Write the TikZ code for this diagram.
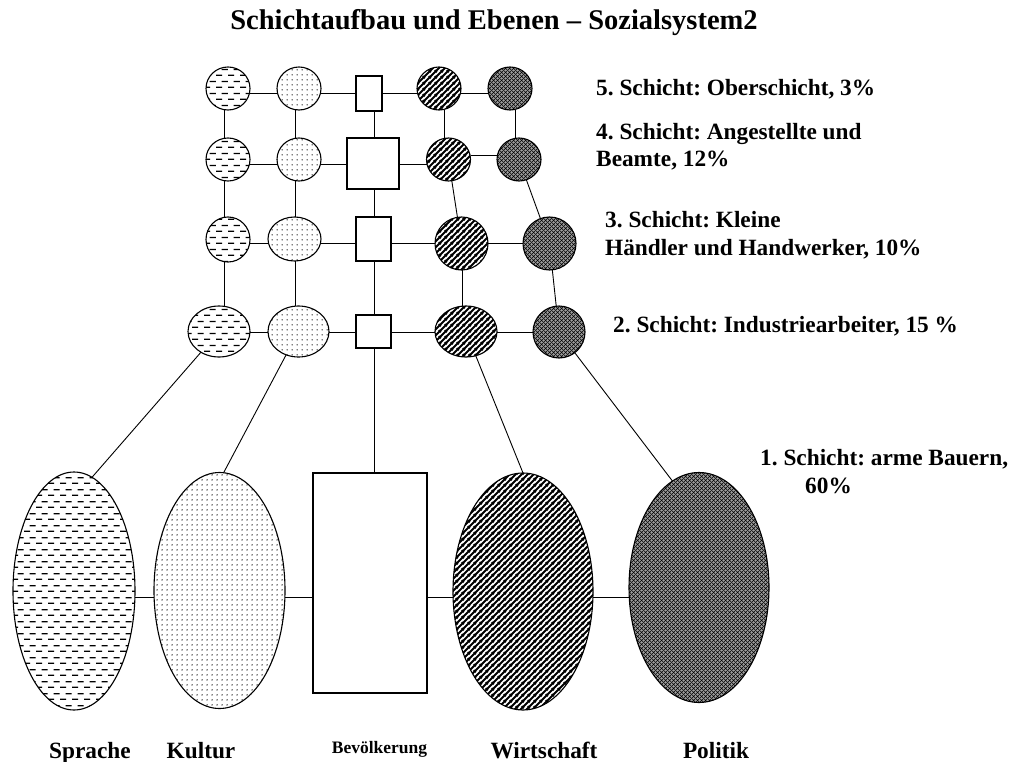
\documentclass[tikz,border=0pt]{standalone}
\usepackage{fontspec}
\setmainfont{Liberation Serif}
\usetikzlibrary{shapes.geometric,patterns.meta}
\frenchspacing

\tikzdeclarepattern{name=hdash, type=uncolored,
  bounding box={(0pt,0pt) and (12pt,12pt)}, tile size={(12pt,12pt)},
  code={\draw[line width=1.3pt] (0pt,3pt) -- (6.5pt,3pt) (6pt,9pt) -- (12.5pt,9pt);}}
\tikzdeclarepattern{name=dotsp, type=uncolored,
  bounding box={(0pt,0pt) and (5pt,5pt)}, tile size={(5pt,5pt)},
  code={\fill (2.5pt,2.5pt) circle (0.85pt);}}
\tikzdeclarepattern{name=diagp, type=uncolored,
  bounding box={(0pt,0pt) and (5.5pt,5.5pt)}, tile size={(5.5pt,5.5pt)},
  code={\draw[line width=2pt] (-1pt,-1pt) -- (6.5pt,6.5pt) (-1pt,4.5pt) -- (1pt,6.5pt) (4.5pt,-1pt) -- (6.5pt,1pt);}}
\tikzdeclarepattern{name=xhatch, type=uncolored,
  bounding box={(0pt,0pt) and (4pt,4pt)}, tile size={(4pt,4pt)},
  code={\draw[line width=0.8pt] (-1pt,-1pt) -- (5pt,5pt) (-1pt,5pt) -- (5pt,-1pt);}}

\tikzset{
  gn/.style={ellipse, draw, line width=1.1pt, inner sep=0pt, outer sep=0pt},
  sq/.style={rectangle, draw, line width=1.1pt, inner sep=0pt, outer sep=0pt, fill=white},
  fdash/.style={pattern=hdash},
  fdots/.style={pattern=dotsp, pattern color=black},
  fdiag/.style={pattern=diagp},
  fxh/.style={preaction={fill=black!38}, pattern=xhatch},
  conn/.style={line width=0.9pt},
  lbl/.style={font=\fontsize{23.3}{26}\selectfont\bfseries, anchor=base west, inner sep=0pt},
  blbl/.style={font=\fontsize{23.3}{26}\selectfont\bfseries, anchor=base, inner sep=0pt}
}

\begin{document}
\begin{tikzpicture}[x=1pt,y=-1pt]
\fill[white] (0,0) rectangle (1011,762);
\useasboundingbox (0,0) rectangle (1011,762);

\node[font=\fontsize{28.5}{32}\selectfont\bfseries, anchor=base, inner sep=0pt] (title) at (494,30) {Schichtaufbau und Ebenen – Sozialsystem2};

% line levels
\coordinate (L5) at (0,93);
\coordinate (L4) at (0,164);
\coordinate (L4b) at (0,155);
\coordinate (L3) at (0,243);
\coordinate (L2) at (0,332);
\coordinate (LB) at (0,597);
\coordinate (V1) at (224,0);
\coordinate (V2) at (295,0);
\coordinate (V3) at (374,0);
\coordinate (V4) at (444,0);
\coordinate (V4b) at (462,0);
\coordinate (V5) at (515,0);

% row 5
\node[gn,fdash,minimum width=44pt,minimum height=43pt] (a5) at (228,88.5) {};
\node[gn,fdots,minimum width=44pt,minimum height=43pt] (b5) at (299,88.5) {};
\node[sq,minimum width=26pt,minimum height=35pt] (c5) at (369,93.5) {};
\node[gn,fdiag,minimum width=44pt,minimum height=43pt] (d5) at (439,88.5) {};
\node[gn,fxh,minimum width=44pt,minimum height=43pt] (e5) at (510,88.5) {};
% row 4
\node[gn,fdash,minimum width=44pt,minimum height=43pt] (a4) at (228,159.5) {};
\node[gn,fdots,minimum width=44pt,minimum height=43pt] (b4) at (299,159.5) {};
\node[sq,minimum width=52pt,minimum height=51pt] (c4) at (373,163.5) {};
\node[gn,fdiag,minimum width=44pt,minimum height=43pt] (d4) at (448.5,159.5) {};
\node[gn,fxh,minimum width=44pt,minimum height=43pt] (e4) at (519,159.5) {};
% row 3
\node[gn,fdash,minimum width=44pt,minimum height=45pt] (a3) at (228,239.5) {};
\node[gn,fdots,minimum width=53pt,minimum height=44pt] (b3) at (294.5,239) {};
\node[sq,minimum width=35pt,minimum height=44pt] (c3) at (373.5,239) {};
\node[gn,fdiag,minimum width=53pt,minimum height=53pt] (d3) at (461.5,243.5) {};
\node[gn,fxh,minimum width=53pt,minimum height=53pt] (e3) at (549.5,243.5) {};
% row 2
\node[gn,fdash,minimum width=62pt,minimum height=51pt] (a2) at (219,331.5) {};
\node[gn,fdots,minimum width=61pt,minimum height=51pt] (b2) at (298.5,331.5) {};
\node[sq,minimum width=35pt,minimum height=33pt] (c2) at (373.5,331.5) {};
\node[gn,fdiag,minimum width=62pt,minimum height=51pt] (d2) at (466,331.5) {};
\node[gn,fxh,minimum width=52pt,minimum height=52pt] (e2) at (559,332) {};

% bottom
\node[gn,fdash,minimum width=122pt,minimum height=238pt] (sprache) at (74,591) {};
\node[gn,fdots,minimum width=131pt,minimum height=236pt] (kultur) at (219.5,590.5) {};
\node[sq,minimum width=114pt,minimum height=220pt] (bev) at (370,583) {};
\node[gn,fdiag,minimum width=140pt,minimum height=237pt] (wirt) at (523,591.5) {};
\node[gn,fxh,minimum width=140pt,minimum height=230pt] (politik) at (699,587.5) {};

% horizontal connectors
\draw[conn] (a5.east|-L5) -- (b5.west|-L5);
\draw[conn] (b5.east|-L5) -- (c5.west|-L5);
\draw[conn] (c5.east|-L5) -- (d5.west|-L5);
\draw[conn] (d5.east|-L5) -- (e5.west|-L5);
\draw[conn] (a4.east|-L4) -- (b4.west|-L4);
\draw[conn] (b4.east|-L4) -- (c4.west|-L4);
\draw[conn] (c4.east|-L4) -- (d4.west|-L4);
\draw[conn] (d4.east|-L4b) -- (e4.west|-L4b);
\draw[conn] (a3.east|-L3) -- (b3.west|-L3);
\draw[conn] (b3.east|-L3) -- (c3.west|-L3);
\draw[conn] (c3.east|-L3) -- (d3.west|-L3);
\draw[conn] (d3.east|-L3) -- (e3.west|-L3);
\draw[conn] (a2.east|-L2) -- (b2.west|-L2);
\draw[conn] (b2.east|-L2) -- (c2.west|-L2);
\draw[conn] (c2.east|-L2) -- (d2.west|-L2);
\draw[conn] (d2.east|-L2) -- (e2.west|-L2);
\draw[conn] (sprache.east|-LB) -- (kultur.west|-LB);
\draw[conn] (kultur.east|-LB) -- (bev.west|-LB);
\draw[conn] (bev.east|-LB) -- (wirt.west|-LB);
\draw[conn] (wirt.east|-LB) -- (politik.west|-LB);

% vertical connectors
\draw[conn] (a5.south-|V1) -- (a4.north-|V1);
\draw[conn] (a4.south-|V1) -- (a3.north-|V1);
\draw[conn] (a3.south-|V1) -- (a2.north-|V1);
\draw[conn] (b5.south-|V2) -- (b4.north-|V2);
\draw[conn] (b4.south-|V2) -- (b3.north-|V2);
\draw[conn] (b3.south-|V2) -- (b2.north-|V2);
\draw[conn] (c5.south-|V3) -- (c4.north-|V3);
\draw[conn] (c4.south-|V3) -- (c3.north-|V3);
\draw[conn] (c3.south-|V3) -- (c2.north-|V3);
\draw[conn] (c2.south-|V3) -- (bev.north-|V3);
\draw[conn] (d5.south-|V4) -- (d4.north-|V4);
\draw[conn] (d4) -- (d3);
\draw[conn] (d3.south-|V4b) -- (d2.north-|V4b);
\draw[conn] (e5.south-|V5) -- (e4.north-|V5);
\draw[conn] (e4) -- (e3);
\draw[conn] (e3) -- (e2);

% to bottom
\draw[conn] (a2) -- (sprache.81);
\draw[conn] (b2) -- (kultur.88);
\draw[conn] (d2) -- (wirt.north);
\draw[conn] (e2) -- (politik.104);

% labels
\node[lbl] (t5) at (596,96) {5. Schicht: Oberschicht, 3\%};
\node[lbl] (t4a) at (596,140) {4. Schicht: Angestellte und};
\node[lbl] (t4b) at (596,167) {Beamte, 12\%};
\node[lbl] (t3a) at (605,227) {3. Schicht: Kleine};
\node[lbl] (t3b) at (605,255) {Händler und Handwerker, 10\%};
\node[lbl] (t2) at (613,332) {2. Schicht: Industriearbeiter, 15 \%};
\node[lbl] (t1a) at (760,465) {1. Schicht: arme Bauern,};
\node[lbl] (t1b) at (805,493) {60\%};

\node[blbl] (ls) at (90,758) {Sprache};
\node[blbl] (lk) at (201,758) {Kultur};
\node[font=\fontsize{17.5}{20}\selectfont\bfseries, anchor=base, inner sep=0pt] (lb) at (379.5,753) {Bevölkerung};
\node[blbl] (lw) at (544,758) {Wirtschaft};
\node[blbl] (lp) at (716,758) {Politik};
\end{tikzpicture}
\end{document}
